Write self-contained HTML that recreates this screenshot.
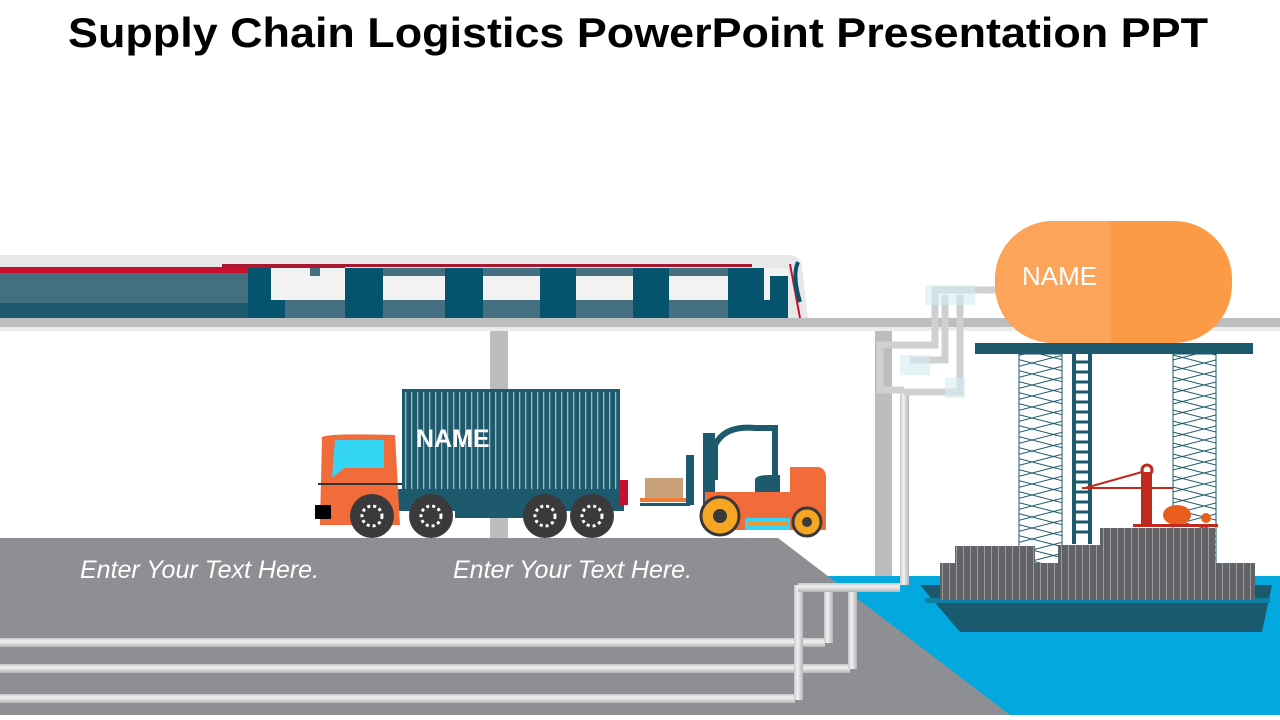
<!DOCTYPE html>
<html><head><meta charset="utf-8"><style>
html,body{margin:0;padding:0;background:#fff;}
svg{display:block;}
</style></head><body>
<svg width="1280" height="720" viewBox="0 0 1280 720" xmlns="http://www.w3.org/2000/svg" font-family="Liberation Sans, sans-serif">
<defs>
<pattern id="stripes" width="6" height="10" patternUnits="userSpaceOnUse"><rect width="6" height="10" fill="#1d5a6e"/><rect x="3" width="1.3" height="10" fill="#9fb8c2"/></pattern>
<pattern id="cont" width="7" height="10" patternUnits="userSpaceOnUse"><rect width="7" height="10" fill="#626367"/><rect x="4" width="1" height="10" fill="#9a9b9f"/></pattern>
<pattern id="scaf" width="43" height="22" patternUnits="userSpaceOnUse"><path d="M0,0 L43,11 L0,22 M43,0 L0,11 L43,22" stroke="#1d5a6e" stroke-width="1" fill="none"/></pattern>
<linearGradient id="pipeH" x1="0" y1="0" x2="0" y2="1"><stop offset="0" stop-color="#c8c9cb"/><stop offset=".4" stop-color="#f2f2f3"/><stop offset="1" stop-color="#b4b5b8"/></linearGradient>
<linearGradient id="pipeV" x1="0" y1="0" x2="1" y2="0"><stop offset="0" stop-color="#c8c9cb"/><stop offset=".4" stop-color="#f2f2f3"/><stop offset="1" stop-color="#b4b5b8"/></linearGradient>
</defs>
<text x="68" y="47" font-size="42" font-weight="bold" fill="#000" textLength="1140" lengthAdjust="spacingAndGlyphs">Supply Chain Logistics PowerPoint Presentation PPT</text>

<!-- water & ground -->
<rect x="820" y="576" width="460" height="139" fill="#03a9de"/>
<polygon points="0,538 778,538 1010,715 0,715" fill="#8e8f92"/>

<!-- columns & beam -->
<rect x="490" y="327" width="18" height="211" fill="#bcbdbf"/>
<rect x="875" y="327" width="17" height="249" fill="#bcbdbf"/>
<rect x="0" y="318" width="1280" height="9" fill="#bcbdbf"/>
<rect x="0" y="327" width="1280" height="4" fill="#ececed"/>

<!-- train -->
<path d="M0,255 L790,255 Q800,256 802,266 L808,318 L0,318 Z" fill="#e8e8ea"/>
<rect x="0" y="268" width="248" height="50" fill="#436f80"/>
<rect x="0" y="303" width="248" height="15" fill="#1d5a6e"/>
<rect x="0" y="267" width="345" height="6" fill="#c8102e"/>
<rect x="222" y="264" width="530" height="3" fill="#a8182e"/>
<g>
<rect x="248" y="268" width="540" height="50" fill="#05536d"/>
<rect x="248" y="268" width="540" height="8" fill="#f2f2f3"/>
<rect x="270" y="276" width="500" height="24" fill="#f2f2f3"/>
</g>
<g fill="#05536d">
<rect x="248" y="268" width="23" height="50"/><rect x="310" y="268" width="10" height="8" fill="#436f80"/>
<rect x="345" y="268" width="38" height="50"/><rect x="445" y="268" width="38" height="50"/>
<rect x="540" y="268" width="36" height="50"/><rect x="633" y="268" width="36" height="50"/>
<rect x="728" y="268" width="36" height="50"/>
</g>
<g fill="#436f80">
<rect x="383" y="268" width="62" height="8"/><rect x="483" y="268" width="57" height="8"/><rect x="576" y="268" width="57" height="8"/><rect x="669" y="268" width="59" height="8"/>
<rect x="285" y="300" width="60" height="18"/><rect x="383" y="300" width="62" height="18"/><rect x="483" y="300" width="57" height="18"/><rect x="576" y="300" width="57" height="18"/><rect x="669" y="300" width="59" height="18"/>
</g>
<path d="M790,264 L800,318" stroke="#c8102e" stroke-width="2"/>
<path d="M798,262 Q792,275 800,302" stroke="#05536d" stroke-width="4" fill="none"/>

<!-- truck container -->
<rect x="402" y="389" width="218" height="100" fill="url(#stripes)"/>
<rect x="402" y="389" width="218" height="3" fill="#1d5a6e"/>
<text x="416" y="447" font-size="25" font-weight="bold" fill="#fff">NAME</text>
<rect x="398" y="489" width="226" height="22" fill="#1d5a6e"/>
<rect x="620" y="480" width="8" height="25" fill="#c8102e"/>
<!-- cab -->
<path d="M322,437 Q330,433 395,435 L400,525 L320,525 Z" fill="#f26b3a"/>
<path d="M335,440 L384,440 L384,468 L344,468 L332,478 Z" fill="#35d5f5"/>
<rect x="318" y="483" width="84" height="2" fill="#333"/>
<rect x="315" y="505" width="16" height="14" fill="#000"/>
<rect x="455" y="508" width="70" height="10" fill="#1d5a6e"/>
<g fill="#3a3a3c"><circle cx="372" cy="516" r="22"/><circle cx="431" cy="516" r="22"/><circle cx="545" cy="516" r="22"/><circle cx="592" cy="516" r="22"/></g>
<g fill="none" stroke="#fff" stroke-width="3" stroke-dasharray="3 3"><circle cx="372" cy="516" r="10"/><circle cx="431" cy="516" r="10"/><circle cx="545" cy="516" r="10"/><circle cx="592" cy="516" r="10"/></g>

<!-- forklift -->
<rect x="645" y="478" width="38" height="20" fill="#c9a27c"/>
<rect x="640" y="498" width="48" height="4" fill="#f07b34"/>
<rect x="640" y="503" width="50" height="3" fill="#1d5a6e"/>
<rect x="686" y="455" width="8" height="50" fill="#1d5a6e"/>
<rect x="703" y="433" width="12" height="75" fill="#1d5a6e"/>
<path d="M715,480 L715,445 Q725,425 755,428 L775,428 L775,480" stroke="#1d5a6e" stroke-width="6" fill="none"/>
<path d="M755,480 Q755,475 770,475 L780,475 L780,495 L755,495 Z" fill="#1d5a6e"/>
<path d="M705,492 L790,492 L790,467 L818,467 Q826,468 826,478 L826,530 L705,530 Z" fill="#f26b3a"/>
<rect x="745" y="518" width="45" height="12" fill="#35d5f5"/>
<rect x="748" y="522" width="40" height="3" fill="#f0962e"/>
<circle cx="720" cy="516" r="19" fill="#f5a623" stroke="#3a3a3c" stroke-width="3"/><circle cx="720" cy="516" r="7" fill="#3a3a3c"/>
<circle cx="807" cy="522" r="14" fill="#f5a623" stroke="#3a3a3c" stroke-width="3"/><circle cx="807" cy="522" r="5" fill="#3a3a3c"/>

<!-- text -->
<text x="80" y="578" font-size="25" font-style="italic" fill="#fff">Enter Your Text Here.</text>
<text x="453" y="578" font-size="25" font-style="italic" fill="#fff">Enter Your Text Here.</text>

<!-- bottom pipes -->
<g>
<rect x="0" y="638" width="825" height="9" fill="url(#pipeH)"/>
<rect x="0" y="664" width="850" height="9" fill="url(#pipeH)"/>
<rect x="0" y="694" width="795" height="9" fill="url(#pipeH)"/>
<rect x="794" y="585" width="9" height="115" fill="url(#pipeV)"/>
<rect x="824" y="587" width="9" height="56" fill="url(#pipeV)"/>
<rect x="848" y="587" width="9" height="82" fill="url(#pipeV)"/>
<rect x="798" y="583" width="102" height="9" fill="url(#pipeH)"/>
<rect x="900" y="390" width="9" height="195" fill="url(#pipeV)"/>
</g>

<!-- tank pipes -->
<g fill="none" stroke="#cfd0d2" stroke-width="7">
<path d="M904,390 L880,390 L880,345 L935,345 L935,290 L1000,290"/>
<path d="M904,392 L960,392 L960,295"/>
<path d="M910,360 L945,360 L945,295"/>
</g>
<g fill="#d6ecf3" opacity=".6"><rect x="925" y="285" width="50" height="20"/><rect x="900" y="355" width="30" height="20"/><rect x="945" y="378" width="20" height="20"/></g>

<!-- tank -->
<rect x="995" y="221" width="237" height="122" rx="58" fill="#fd9a45"/>
<path d="M1053,221 L1110,221 L1110,343 L1053,343 A58,61 0 0 1 1053,221 Z" fill="#fca459"/>
<text x="1022" y="285" font-size="26" fill="#fff">NAME</text>
<rect x="975" y="343" width="278" height="11" fill="#1d5a6e"/>

<!-- scaffolds -->
<rect x="1019" y="354" width="43" height="210" fill="url(#scaf)" stroke="#1d5a6e"/>
<rect x="1173" y="354" width="43" height="210" fill="url(#scaf)" stroke="#1d5a6e"/>
<rect x="1072" y="354" width="4" height="190" fill="#1d5a6e"/>
<rect x="1088" y="354" width="4" height="190" fill="#1d5a6e"/>
<g stroke="#1d5a6e" stroke-width="3"><path d="M1072,362h20M1072,372h20M1072,382h20M1072,392h20M1072,402h20M1072,412h20M1072,422h20M1072,432h20M1072,442h20M1072,452h20M1072,462h20M1072,472h20M1072,482h20M1072,492h20M1072,502h20M1072,512h20M1072,522h20M1072,532h20"/></g>

<!-- crane -->
<rect x="1141" y="472" width="11" height="55" fill="#c0291e"/>
<circle cx="1147" cy="470" r="5" fill="none" stroke="#c0291e" stroke-width="3"/>
<path d="M1082,488 L1173,488 M1085,488 L1142,472" stroke="#c0291e" stroke-width="2"/>
<ellipse cx="1177" cy="515" rx="14" ry="10" fill="#e85d1c"/>
<circle cx="1206" cy="518" r="5" fill="#e85d1c"/>
<rect x="1133" y="524" width="85" height="3" fill="#c0291e"/>

<!-- ship -->
<polygon points="920,585 1272,585 1262,632 960,632" fill="#1b5a6e"/>
<rect x="925" y="598" width="345" height="5" fill="#0e7ea3"/>
<rect x="940" y="563" width="315" height="37" fill="url(#cont)"/>
<rect x="955" y="546" width="80" height="17" fill="url(#cont)"/>
<rect x="1058" y="545" width="157" height="18" fill="url(#cont)"/>
<rect x="1100" y="528" width="115" height="17" fill="url(#cont)"/>
</svg>
</body></html>
